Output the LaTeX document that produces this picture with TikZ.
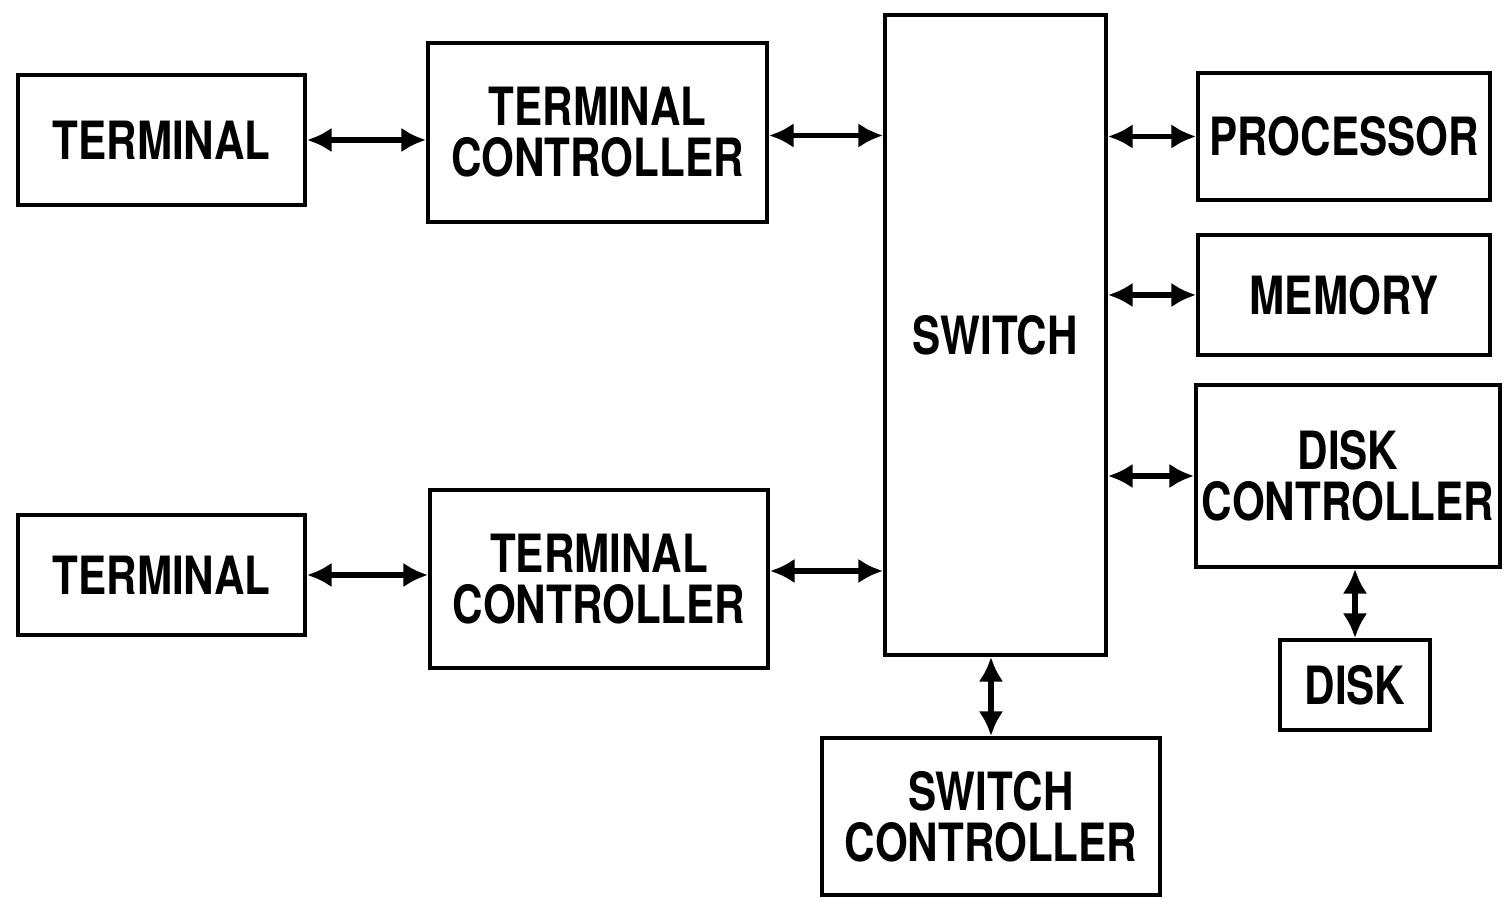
\documentclass[tikz,border=0pt]{standalone}
\usepackage{fontspec}
\newfontfamily\boxfont{TeX Gyre Heros}[FakeStretch=0.8]
\usepackage{tikz}
\usetikzlibrary{arrows.meta,calc}

\begin{document}
\begin{tikzpicture}[
  box/.style={draw, line width=1.1pt, align=center, inner sep=0pt, font=\boxfont\bfseries\fontsize{15}{14.5}\selectfont},
  link/.style={{Latex[length=7pt,width=7pt]}-{Latex[length=7pt,width=7pt]}, line width=1.5pt}
]
\useasboundingbox (0,0) rectangle (15.04,8.98);
\node[box, minimum width=2.87cm, minimum height=1.30cm] (term1) at (1.615,7.58) {TERMINAL};
\node[box, minimum width=3.39cm, minimum height=1.79cm] (tctl1) at (5.975,7.655) {TERMINAL\\CONTROLLER};
\node[box, minimum width=2.87cm, minimum height=1.20cm] (term2) at (1.615,3.23) {TERMINAL};
\node[box, minimum width=3.38cm, minimum height=1.78cm] (tctl2) at (5.99,3.19) {TERMINAL\\CONTROLLER};
\node[box, minimum width=2.21cm, minimum height=6.40cm] (switch) at (9.955,5.63) {SWITCH};
\node[box, minimum width=3.38cm, minimum height=1.57cm] (swctl) at (9.91,0.815) {SWITCH\\CONTROLLER};
\node[box, minimum width=2.92cm, minimum height=1.27cm] (proc) at (13.44,7.615) {PROCESSOR};
\node[box, minimum width=2.92cm, minimum height=1.20cm] (mem) at (13.44,6.03) {MEMORY};
\node[box, minimum width=3.04cm, minimum height=1.82cm] (dctl) at (13.48,4.22) {DISK\\CONTROLLER};
\node[box, minimum width=1.50cm, minimum height=0.90cm] (disk) at (13.55,2.13) {DISK};
\draw[link] (term1.east) -- (term1.east -| tctl1.west);
\draw[link] ($(tctl1.east)+(0,-0.03)$) -- ($(tctl1.east -| switch.west)+(0,-0.03)$);
\draw[link] (term2.east) -- (term2.east -| tctl2.west);
\draw[link] ($(tctl2.east)+(0,0.08)$) -- ($(tctl2.east -| switch.west)+(0,0.08)$);
\draw[link] (proc.west -| switch.east) -- (proc.west);
\draw[link] (mem.west -| switch.east) -- (mem.west);
\draw[link] (dctl.west -| switch.east) -- (dctl.west);
\draw[link] (swctl.north) -- (swctl.north |- switch.south);
\draw[link] (disk.north) -- (disk.north |- dctl.south);
\end{tikzpicture}
\end{document}
